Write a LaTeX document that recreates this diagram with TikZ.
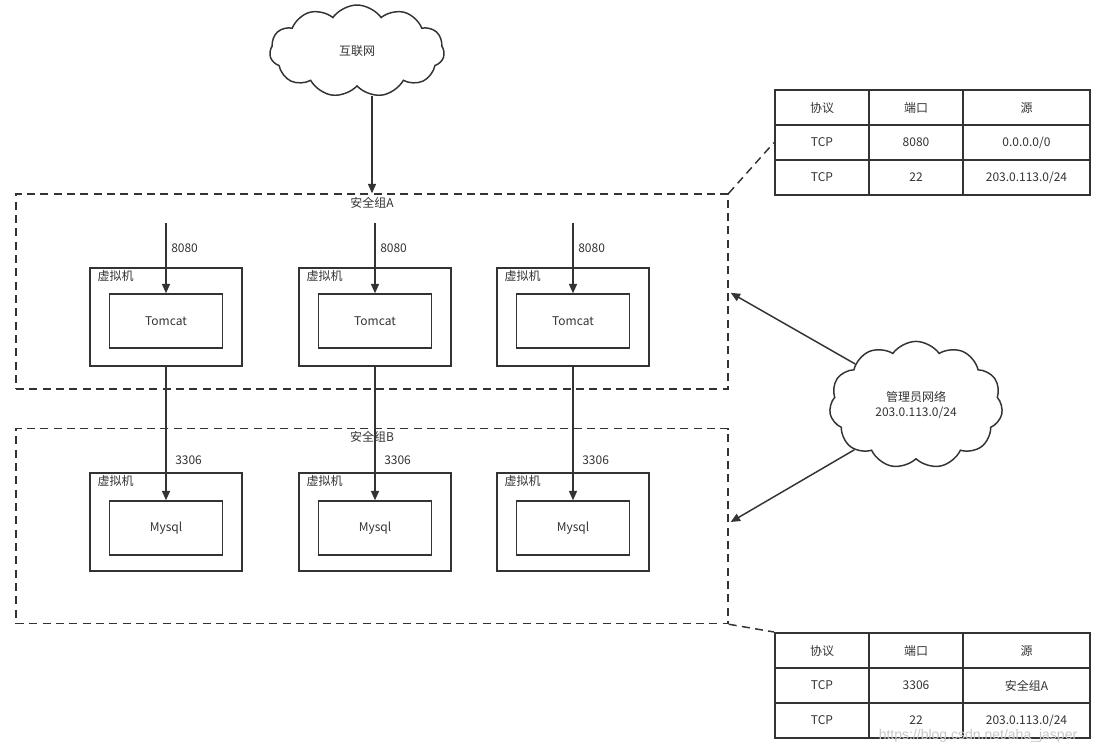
\documentclass[tikz,border=0pt]{standalone}
\usepackage{fontspec}
\setmainfont{Noto Sans CJK SC}
\usetikzlibrary{arrows.meta,shapes.symbols,matrix}
\definecolor{ink}{HTML}{333333}
\begin{document}
\begin{tikzpicture}[x=0.75pt,y=-0.75pt,
  every node/.style={font=\fontsize{9}{11}\selectfont, text=ink},
  box/.style={draw=ink, line width=1.1pt, inner sep=0pt},
  grp/.style={draw=ink, line width=1.1pt, dash pattern=on 6pt off 4pt, inner sep=0pt, minimum width=534pt, minimum height=146.25pt},
  vm/.style={box, minimum width=114pt, minimum height=73.5pt},
  app/.style={box, minimum width=84.75pt, minimum height=40.5pt},
  cloudy/.style={cloud, cloud puffs=11, cloud puff arc=110, draw=ink, line width=1.1pt, inner sep=0pt, align=center},
  arr/.style={draw=ink, line width=1.1pt, -{Triangle[length=7pt,width=6pt]}},
  dsh/.style={draw=ink, line width=1.1pt, dash pattern=on 6pt off 4pt},
  cell/.style={draw=ink, line width=1.1pt, minimum height=26.25pt, inner sep=0pt, anchor=center},
  lbl/.style={anchor=north west, inner sep=0pt},
  tbl/.style={matrix of nodes, anchor=north west, nodes={cell}, inner sep=0pt,
    column sep=-1.1pt, row sep=-1.1pt,
    column 1/.style={nodes={minimum width=70.5pt}},
    column 2/.style={nodes={minimum width=70.5pt}},
    column 3/.style={nodes={minimum width=95.25pt}}}
]
\useasboundingbox (0,0) rectangle (1101,751);

% clouds
\node[cloudy, minimum width=131pt, minimum height=69pt] (inet) at (357,51) {互联网};
\node[cloudy, minimum width=130pt, minimum height=64pt] (adm) at (916,405) {管理员网络\\203.0.113.0/24};

% security groups
\node[grp] (gA) at (372,291.5) {};
\node[grp] (gB) at (372,526) {};
\node[anchor=north, inner sep=0pt] (gAl) at ([yshift=-2.5pt]gA.north) {安全组A};
\node[anchor=north, inner sep=0pt] (gBl) at ([yshift=-2.5pt]gB.north) {安全组B};

% VMs
\foreach \i/\x in {1/166,2/375,3/573}{
  \node[vm] (va\i) at (\x,317) {};
  \node[app] (t\i) at (\x,321) {Tomcat};
  \node[lbl] at ([xshift=6pt,yshift=-2.5pt]va\i.north west) {虚拟机};
  \coordinate (in\i) at (\x,223);
  \draw[arr] (in\i) -- (t\i.north);
  \node[anchor=west, inner sep=0pt] at (\x+5,248) {8080};
  \node[vm] (vb\i) at (\x,522) {};
  \node[app] (m\i) at (\x,528) {Mysql};
  \node[lbl] at ([xshift=6pt,yshift=-2.5pt]vb\i.north west) {虚拟机};
  \draw[arr] (va\i.south) -- (m\i.north);
  \node[anchor=west, inner sep=0pt] at (\x+9,460) {3306};
}

% internet arrow
\draw[arr] ([yshift=-7pt]inet.south -| gA.north) -- (gA.north);

% admin arrows
\draw[arr] (adm.146) -- ([xshift=1.5pt,yshift=-1pt]gA.east);
\draw[arr] (adm.216) -- ([xshift=1.5pt,yshift=3pt]gB.east);

% tables
\matrix (tA) [tbl] at (774,89) {
  协议 & 端口 & 源 \\
  TCP & 8080 & 0.0.0.0/0 \\
  TCP & 22 & 203.0.113.0/24 \\
};
\matrix (tB) [tbl] at (774,632) {
  协议 & 端口 & 源 \\
  TCP & 3306 & 安全组A \\
  TCP & 22 & 203.0.113.0/24 \\
};

\draw[dsh] (gA.north east) -- (tA.west);
\draw[dsh] (gB.south east) -- (tB.north west);

% watermark
\node[text=black!22, font=\fontspec{Liberation Sans}\fontsize{10.5}{12}\selectfont, inner sep=0pt] (wm) at (978,736) {https://blog.csdn.net/aha\_jasper};
\end{tikzpicture}
\end{document}
